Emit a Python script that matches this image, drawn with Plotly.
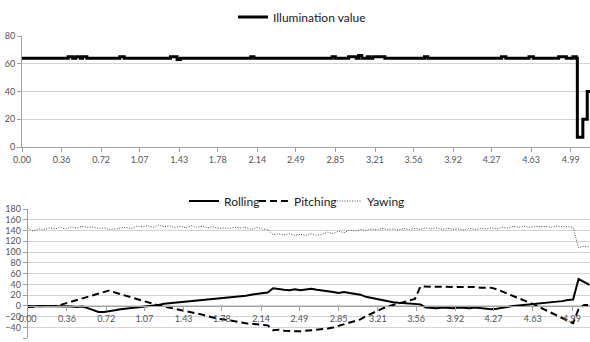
import plotly.graph_objects as go

# ---------------- data ----------------
x_tick_labels = ["0.00", "0.36", "0.72", "1.07", "1.43", "1.78", "2.14", "2.49",
                 "2.85", "3.21", "3.56", "3.92", "4.27", "4.63", "4.99"]

# Illumination (change points of a step series)
illum_t = [0, 0.42, 0.46, 0.49, 0.53, 0.55, 0.59, 0.89, 0.93, 1.35, 1.41, 1.44,
           2.08, 2.11, 2.82, 2.85, 2.97, 3.04, 3.06, 3.09, 3.14, 3.16, 3.19, 3.30,
           3.66, 3.69, 4.36, 4.40, 4.61, 4.65, 4.88, 4.95, 5.01, 5.04, 5.05, 5.10,
           5.14, 5.17]
illum_v = [64, 65, 64, 65, 64, 65, 64, 65, 64, 65, 63, 64,
           65, 64, 65, 64, 65, 64, 66, 64, 65, 64, 65, 64,
           65, 64, 65, 64, 65, 64, 65, 64, 65, 64, 7, 20,
           40, 40]

# Motion series, sampled every 0.05
motion_t = [round(0.05 * i, 2) for i in range(104)]

rolling = [0, -1, 0, 0, 0, 0, 0, 0, -1, -2,
           -1, -4, -8, -11, -11, -10, -8, -6, -5, -4,
           -2, -1, 0, 1, 2, 4, 5, 5, 6, 7,
           8, 9, 10, 11, 12, 14, 15, 15, 17, 18,
           19, 21, 22, 24, 25, 33, 31, 30, 29, 31,
           29, 30, 32, 30, 29, 28, 26, 24, 26, 24,
           22, 21, 17, 15, 13, 10, 9, 7, 6, 5,
           5, 4, 3, -3, -4, -4, -3, -4, -4, -3,
           -4, -4, -3, -4, -5, -6, -5, -3, -2, 0,
           1, 2, 3, 4, 5, 5, 6, 8, 9, 11,
           12, 50, 45, 39]

pitching = [-2, -1, 0, 0, 0, 0, 2, 5, 8, 11,
            14, 17, 20, 23, 26, 29, 25, 22, 19, 16,
            13, 10, 6, 3, 1, -1, -3, -5, -7, -9,
            -11, -13, -16, -19, -22, -24, -25, -27, -29, -31,
            -32, -33, -34, -34, -36, -45, -44, -46, -47, -47,
            -47, -46, -46, -45, -44, -42, -40, -37, -34, -31,
            -28, -25, -19, -14, -9, -5, -1, 2, 5, 8,
            10, 13, 36, 36, 36, 36, 35, 35, 35, 35,
            35, 35, 35, 34, 34, 34, 31, 27, 23, 19,
            15, 11, 6, 2, -3, -8, -13, -18, -23, -28,
            -32, -6, 2, 2]

yawing = [145, 139, 143, 142, 145, 143, 146, 143, 147, 145,
          148, 146, 147, 144, 145, 142, 143, 144, 146, 144,
          148, 147, 149, 146, 150, 147, 149, 145, 148, 145,
          149, 146, 148, 145, 147, 144, 145, 144, 146, 145,
          146, 142, 146, 143, 142, 132, 134, 132, 134, 131,
          133, 131, 134, 131, 133, 137, 134, 139, 136, 141,
          139, 142, 140, 143, 141, 144, 142, 143, 141, 144,
          142, 144, 142, 145, 143, 145, 142, 144, 142, 143,
          141, 144, 142, 144, 143, 145, 143, 146, 145, 148,
          146, 148, 146, 148, 147, 148, 146, 148, 147, 146,
          146, 108, 111, 109]

top_y_ticks = [0, 20, 40, 60, 80]
bottom_y_ticks = [-60, -40, -20, 0, 20, 40, 60, 80, 100, 120, 140, 160, 180]

# ---------------- figure ----------------
W, H = 590, 342
tick_vals = [float(s) for s in x_tick_labels]
GRID = "#d4d4d4"
AXIS = "#a0a0a0"
TXT = "#555555"
FONT = "Lato"
LEG_FONT = dict(family=FONT, size=12, color="#1a1a1a")

fig = go.Figure()
fig.add_trace(go.Scatter(x=illum_t, y=illum_v, mode="lines", name="Illumination value",
                         line=dict(color="black", width=3, shape="hv"),
                         xaxis="x", yaxis="y", legend="legend", showlegend=True))
fig.add_trace(go.Scatter(x=motion_t, y=rolling, mode="lines", name="Rolling",
                         line=dict(color="black", width=2),
                         xaxis="x2", yaxis="y2", legend="legend2", showlegend=True))
fig.add_trace(go.Scatter(x=motion_t, y=pitching, mode="lines", name="Pitching",
                         line=dict(color="black", width=2, dash="7px,4px"),
                         xaxis="x2", yaxis="y2", legend="legend3", showlegend=True))
fig.add_trace(go.Scatter(x=motion_t, y=yawing, mode="lines", name="Yawing",
                         line=dict(color="#4d4d4d", width=1, dash="1px,1.5px"),
                         xaxis="x2", yaxis="y2", legend="legend4", showlegend=True))

common_x = dict(tickvals=tick_vals, ticktext=x_tick_labels, showgrid=False,
                showline=True, linecolor=AXIS, linewidth=1, ticks="outside",
                ticklen=4, tickcolor=AXIS, zeroline=False, automargin=False,
                tickfont=dict(family=FONT, size=9, color=TXT))
common_y = dict(showgrid=True, gridcolor=GRID, gridwidth=1, showline=True,
                linecolor=AXIS, linewidth=1, ticks="outside", ticklen=4,
                tickcolor=AXIS, zeroline=False, automargin=False,
                tickfont=dict(family=FONT, size=9, color=TXT))


def leg(x_px, y_px):
    return dict(orientation="h", x=x_px / W, y=1 - y_px / H, xanchor="left",
                yanchor="middle", bgcolor="rgba(0,0,0,0)", borderwidth=0,
                font=LEG_FONT, visible=True)


fig.update_layout(
    width=W, height=H, showlegend=True,
    margin=dict(l=0, r=0, t=0, b=0, pad=0, autoexpand=False),
    paper_bgcolor="white", plot_bgcolor="white",
    font=dict(family=FONT, size=9, color=TXT),
    xaxis=dict(domain=[22 / W, 1], range=[0, 5.165], anchor="y", **common_x),
    yaxis=dict(domain=[1 - 147 / H, 1 - 36 / H], range=[0, 80],
               tickvals=top_y_ticks, anchor="x", **common_y),
    xaxis2=dict(domain=[27.7 / W, 1], range=[0, 5.155], anchor="free",
                position=1 - 306 / H, **common_x),
    yaxis2=dict(domain=[1 - 338.3 / H, 1 - 209 / H], range=[-60, 180],
                tickvals=bottom_y_ticks, anchor="x2", **common_y),
    legend=leg(233, 17),
    legend2=leg(184, 201),
    legend3=leg(254, 201),
    legend4=leg(327, 201),
)

fig.write_html("out.html",
               config={"displayModeBar": False},
               post_script="document.body.style.margin='0';"
                           "document.body.style.overflow='hidden';")
